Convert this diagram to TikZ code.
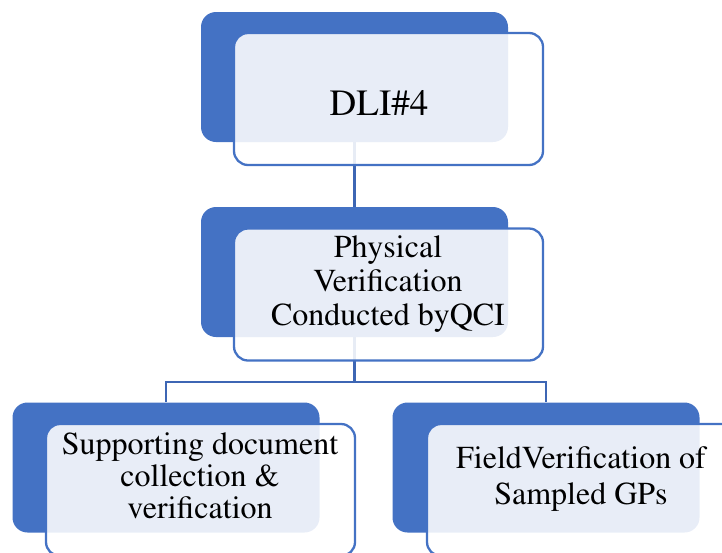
\documentclass[tikz,border=0pt]{standalone}
\usepackage[T1]{fontenc}
\usepackage{mathptmx}
\definecolor{boxblue}{HTML}{4472C4}
\definecolor{lineblue}{HTML}{3D66B4}
\begin{document}
\begin{tikzpicture}[x=1pt,y=-1pt,
    backbox/.style={fill=boxblue,rounded corners=15pt,inner sep=0pt,
      minimum width=307pt,minimum height=130pt},
    frontbox/.style={draw=boxblue,line width=2.3pt,fill=white,fill opacity=0.88,
      rounded corners=14pt,inner sep=0pt,minimum width=309pt,minimum height=132pt},
    conn/.style={draw=lineblue,line width=2.4pt},
    txt/.style={align=center,inner sep=0pt,text=black}]
  \useasboundingbox (0,0) rectangle (722,552);
  \clip (0,0) rectangle (722,552);
  % back boxes
  \node[backbox] (topB) at (354.5,77) {};
  \node[backbox] (midB) at (354.5,272) {};
  \node[backbox] (leftB) at (166,467.5) {};
  \node[backbox] (rightB) at (546,467.5) {};
  % connectors
  \draw[conn] (topB.south) -- (midB.north);
  \draw[conn] (midB.south) -- ++(0,45) coordinate (fork);
  \draw[conn] (fork) -| (leftB.north);
  \draw[conn] (fork) -| (rightB.north);
  % front boxes
  \node[frontbox] (topF) at (388.5,99) {};
  \node[frontbox] (midF) at (388.5,294.5) {};
  \node[frontbox] (leftF) at (200.5,490) {};
  \node[frontbox] (rightF) at (581.5,490) {};
  % texts
  \node[txt,font=\fontsize{37}{40}\selectfont] (topT) at (379,103) {DLI\#4};
  \node[txt,font=\fontsize{32}{34}\selectfont] (midT) at (388,284) {Physical\\Verification\\Conducted byQCI};
  \node[txt,font=\fontsize{32}{31.7}\selectfont] (leftT) at (200,476) {Supporting document\\collection \&\\verification};
  \node[txt,font=\fontsize{32}{35.7}\selectfont] (rightT) at (581,479) {FieldVerification of\\Sampled GPs};
\end{tikzpicture}
\end{document}
